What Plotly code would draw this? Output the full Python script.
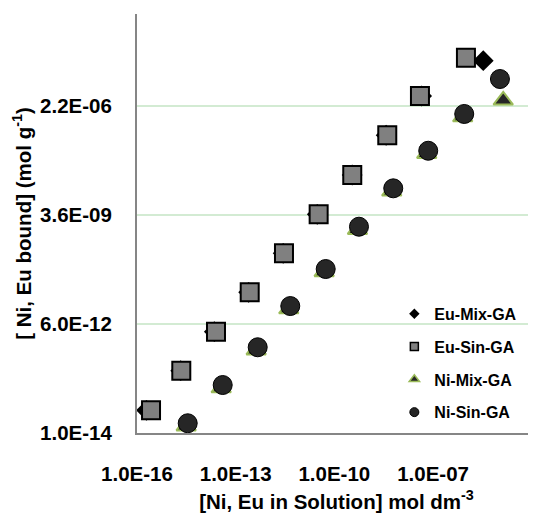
import plotly.graph_objects as go

# ---- data ----
eu_mix_x = [1.94e-16, 2.13e-15, 2.24e-14, 2.48e-13, 2.78e-12, 3.02e-11, 3.48e-10, 3.75e-9, 4.50e-8, 3.36e-6]
eu_mix_y = [3.79e-14, 3.87e-13, 3.82e-12, 3.85e-11, 3.79e-10, 3.74e-9, 3.76e-8, 3.87e-7, 3.87e-6, 3.08e-5]

eu_sin_x = [2.67e-16, 2.22e-15, 2.52e-14, 2.67e-13, 2.94e-12, 3.33e-11, 3.50e-10, 4.06e-9, 4.00e-8, 1.00e-6]
eu_sin_y = [3.79e-14, 3.87e-13, 3.82e-12, 3.85e-11, 3.79e-10, 3.74e-9, 3.76e-8, 3.87e-7, 3.87e-6, 3.67e-5]

ni_mix_x = [3.13e-15, 3.63e-14, 4.20e-13, 4.11e-12, 4.90e-11, 5.04e-10, 5.55e-9, 6.43e-8, 7.98e-7, 1.36e-5]
ni_mix_y = [1.49e-14, 1.40e-13, 1.29e-12, 1.44e-11, 1.27e-10, 1.52e-9, 1.44e-8, 1.31e-7, 1.13e-6, 3.00e-6]

ni_sin_x = [3.48e-15, 4.03e-14, 4.67e-13, 4.57e-12, 5.45e-11, 5.60e-10, 6.17e-9, 7.14e-8, 8.87e-7, 1.08e-5]
ni_sin_y = [1.77e-14, 1.67e-13, 1.53e-12, 1.72e-11, 1.51e-10, 1.81e-9, 1.72e-8, 1.56e-7, 1.35e-6, 1.05e-5]

x_tickvals = [1e-16, 1e-13, 1e-10, 1e-7]
x_ticktext = ["1.0E-16", "1.0E-13", "1.0E-10", "1.0E-07"]
y_tickvals = [1e-14, 6e-12, 3.6e-9, 2.16e-6]
y_ticktext = ["1.0E-14", "6.0E-12", "3.6E-09", "2.2E-06"]

series_names = ["Eu-Mix-GA", "Eu-Sin-GA", "Ni-Mix-GA", "Ni-Sin-GA"]

FONT = "Arial, 'Liberation Sans', sans-serif"
GREEN = "#9bbb59"
DARK = "#262626"

styles = [
    dict(symbol="diamond", color="black", line=dict(width=0, color="black")),
    dict(symbol="square", color="#808080", line=dict(width=2, color="black")),
    dict(symbol="triangle-up", color=DARK, line=dict(width=2, color=GREEN)),
    dict(symbol="circle", color=DARK, line=dict(width=1, color="black")),
]
sizes = [16, 18, 17, 19]
legend_sizes = [8, 8, 9, 9]
data = [(eu_mix_x, eu_mix_y), (eu_sin_x, eu_sin_y), (ni_mix_x, ni_mix_y), (ni_sin_x, ni_sin_y)]

fig = go.Figure()
for name, (xs, ys), st, s in zip(series_names, data, styles, sizes):
    fig.add_trace(go.Scatter(
        x=xs, y=ys, mode="markers", name=name, showlegend=False,
        legendgroup=name, cliponaxis=False,
        marker=dict(symbol=st["symbol"], size=s, color=st["color"], line=st["line"]),
    ))
# legend entries with small symbols
for name, st, s in zip(series_names, styles, legend_sizes):
    lw = dict(st["line"])
    lw["width"] = min(lw["width"], 1.5)
    fig.add_trace(go.Scatter(
        x=[None], y=[None], mode="markers", name=name, showlegend=True,
        legendgroup=name,
        marker=dict(symbol=st["symbol"], size=s, color=st["color"], line=lw),
    ))

fig.update_layout(
    width=528, height=506,
    margin=dict(l=129, r=0, t=6, b=81, pad=0, autoexpand=False),
    paper_bgcolor="white", plot_bgcolor="white",
    font=dict(family=FONT, color="black", size=20, weight="bold"),
    showlegend=True,
    legend=dict(
        x=0.645, y=0.325, xanchor="left", yanchor="top",
        font=dict(family=FONT, size=16, color="black", weight="bold"),
        bgcolor="rgba(0,0,0,0)", borderwidth=0,
        tracegroupgap=9, itemwidth=30,
    ),
    xaxis=dict(
        type="log", range=[-16, -3.87], automargin=True,
        tickvals=x_tickvals, ticktext=x_ticktext,
        showgrid=False, zeroline=False,
        showline=True, linecolor="#868686", linewidth=2,
        ticks="", ticklabelstandoff=21,
        tickfont=dict(size=20.5, family=FONT, weight="bold"),
        title=dict(text="[Ni, Eu in Solution] mol dm<sup>-3</sup>",
                   font=dict(size=20.5, family=FONT, weight="bold"), standoff=11),
    ),
    yaxis=dict(
        type="log", range=[-14, -3.322], automargin=True,
        tickvals=y_tickvals, ticktext=y_ticktext,
        showgrid=True, gridcolor="#d3ebd3", gridwidth=2,
        zeroline=False,
        showline=True, linecolor="#868686", linewidth=2,
        ticks="outside", ticklen=19, tickcolor="rgba(0,0,0,0)",
        tickfont=dict(size=20.5, family=FONT, weight="bold"),
        title=dict(text="[ Ni, Eu bound] (mol g<sup>-1</sup>)",
                   font=dict(size=20.5, family=FONT, weight="bold"), standoff=3),
    ),
)

fig.write_html("out.html")
